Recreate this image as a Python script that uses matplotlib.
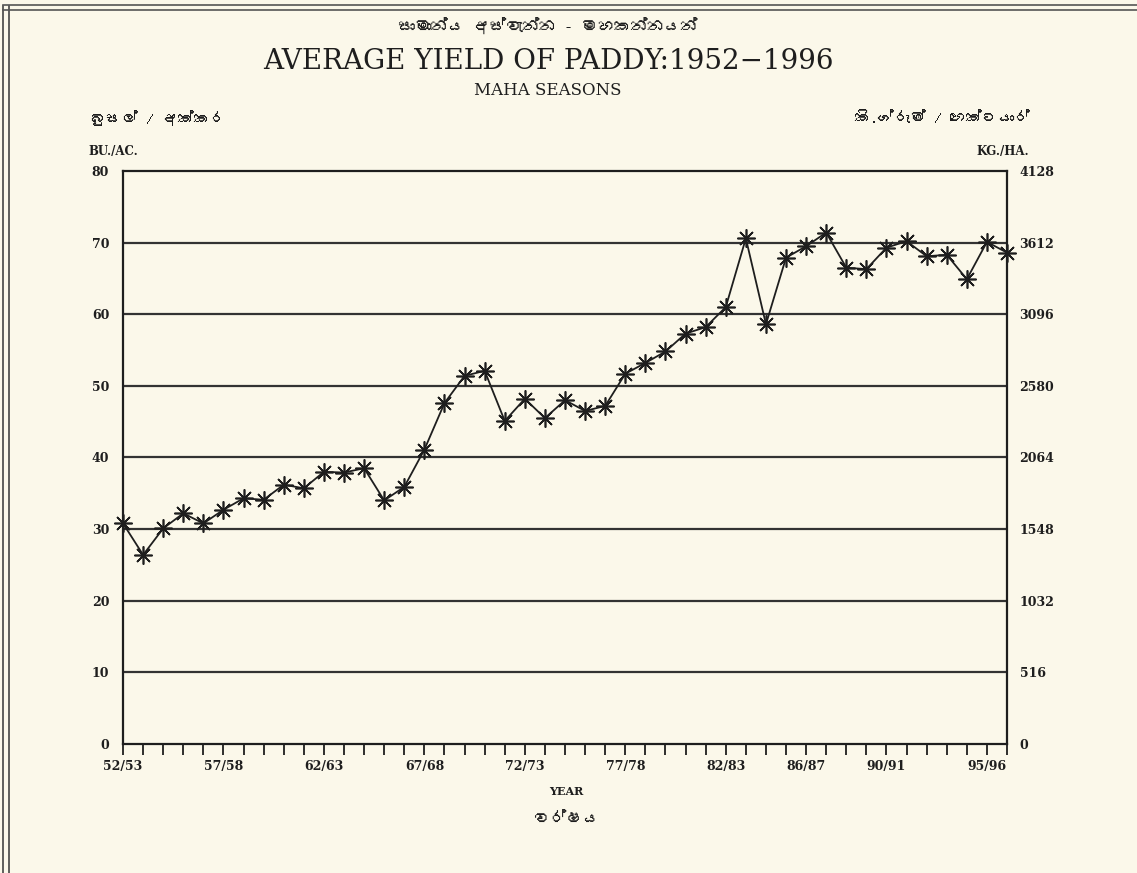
import matplotlib
matplotlib.use("Agg")
import matplotlib.pyplot as plt
from matplotlib import font_manager
from matplotlib.ft2font import FT2Font
from matplotlib.lines import Line2D

# yield in bushels per acre, one value per maha season, 52/53 onwards
yield_bu = [30.8, 26.4, 30.1, 32.2, 30.8, 32.7, 34.3, 34.1, 36.2, 35.7,
            38.0, 37.9, 38.5, 34.0, 35.9, 41.1, 47.6, 51.4, 52.1, 45.1,
            48.2, 45.5, 48.0, 46.5, 47.2, 51.7, 53.2, 54.8, 57.3, 58.2,
            61.0, 70.6, 58.6, 67.9, 69.5, 71.4, 66.5, 66.3, 69.3, 70.2,
            68.1, 68.3, 64.9, 70.1, 68.6]
season_labels = ["52/53", "57/58", "62/63", "67/68", "72/73",
                 "77/78", "82/83", "86/87", "90/91", "95/96"]
left_ticks = [0, 10, 20, 30, 40, 50, 60, 70, 80]
right_ticks = [0, 516, 1032, 1548, 2064, 2580, 3096, 3612, 4128]

# look for a font that can draw sinhala, fall back to DejaVu otherwise
si_font = None
for f in font_manager.fontManager.ttflist:
    try:
        if FT2Font(f.fname).get_char_index(0x0DC3):
            si_font = f.name
            break
    except Exception:
        pass
si_family = [si_font, "DejaVu Sans"] if si_font else ["DejaVu Sans"]

paper = "#fbf8ea"
ink = "#1e1e1e"
serif = "DejaVu Serif"

fig = plt.figure(figsize=(11.37, 8.73), dpi=100, facecolor=paper)
ax = fig.add_axes([0.1082, 0.1478, 0.7775, 0.6563])
ax.set_facecolor(paper)

x = list(range(len(yield_bu)))
ax.set_xlim(0, len(yield_bu) - 1)
ax.set_ylim(0, 80)

# horizontal rules
for v in left_ticks[1:-1]:
    ax.axhline(v, color="#333333", lw=1.6, zorder=1)

ax.plot(x, yield_bu, color=ink, lw=1.3, marker=(8, 2, 0), markersize=13,
        markeredgewidth=1.2, markeredgecolor=ink, zorder=3, clip_on=False)

for s in ax.spines.values():
    s.set_color(ink)
    s.set_linewidth(1.6)

ax.set_yticks(left_ticks)
ax.set_yticklabels([str(v) for v in left_ticks], fontsize=9, fontweight="bold",
                   family=serif, color=ink)
ax.tick_params(axis="y", length=0, pad=10)

ax.set_xticks(x)
ax.set_xticklabels([])
ax.tick_params(axis="x", direction="out", length=8, width=1.3, color=ink)
for lab in season_labels:
    ax.text(int(lab[:2]) - 52, -2.2, lab, ha="center", va="top", fontsize=9,
            fontweight="bold", family=serif, color=ink)

ax2 = ax.twinx()
ax2.set_ylim(0, 4128)
ax2.set_yticks(right_ticks)
ax2.set_yticklabels([str(v) for v in right_ticks], fontsize=9, fontweight="bold",
                    family=serif, color=ink)
ax2.tick_params(axis="y", length=0, pad=9)
for s in ax2.spines.values():
    s.set_visible(False)

# titles and unit labels
fig.text(0.482, 0.970, "සාමාන්ය අස්වැන්න - මහකන්නයන්", ha="center", va="center",
         fontsize=12, fontweight="bold", family=si_family, color=ink)
fig.text(0.482, 0.930, "AVERAGE YIELD OF PADDY:1952\u22121996", ha="center",
         va="center", fontsize=20, family=serif, color=ink)
fig.text(0.482, 0.896, "MAHA SEASONS", ha="center", va="center",
         fontsize=12, family=serif, color=ink)
fig.text(0.079, 0.865, "බුසල් / අක්කර", ha="left", va="center",
         fontsize=11.5, fontweight="bold", family=si_family, color=ink)
fig.text(0.906, 0.865, "කි.ග්රෑම් / හෙක්ටයාර්", ha="right", va="center",
         fontsize=11.5, fontweight="bold", family=si_family, color=ink)
fig.text(0.078, 0.826, "BU./AC.", ha="left", va="center",
         fontsize=8.5, fontweight="bold", family=serif, color=ink)
fig.text(0.905, 0.826, "KG./HA.", ha="right", va="center",
         fontsize=8.5, fontweight="bold", family=serif, color=ink)
fig.text(0.498, 0.093, "YEAR", ha="center", va="center",
         fontsize=8, fontweight="bold", family=serif, color=ink)
fig.text(0.498, 0.060, "වර්ෂය", ha="center", va="center",
         fontsize=12, fontweight="bold", family=si_family, color=ink)

# double frame of the printed page
for xf in (0.003, 0.008):
    fig.add_artist(Line2D([xf, xf], [0, 0.993], transform=fig.transFigure,
                          color="#444444", lw=1.2))
for yf in (0.994, 0.988):
    fig.add_artist(Line2D([0.003, 1.0], [yf, yf], transform=fig.transFigure,
                          color="#555555", lw=1.2))

fig.savefig("out.png", dpi=100, facecolor=paper)
